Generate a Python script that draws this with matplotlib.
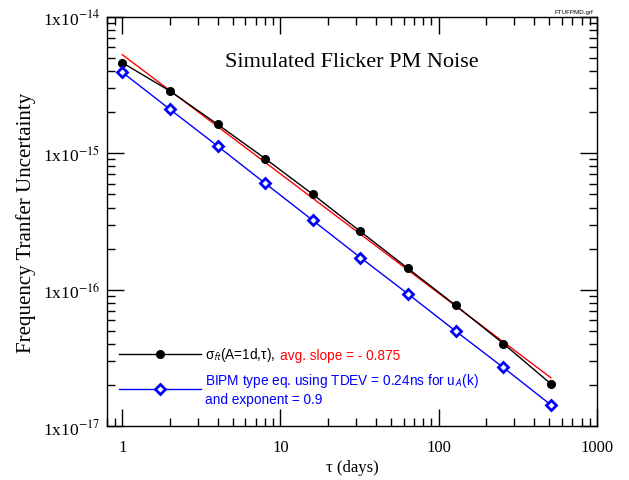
import numpy as np
import matplotlib
matplotlib.use("Agg")
import matplotlib.pyplot as plt
from matplotlib.lines import Line2D
from matplotlib.ticker import LogLocator, FuncFormatter, NullFormatter, FixedLocator

plt.rcParams["mathtext.fontset"] = "stix"

# data
tau = [1, 2, 4, 8, 16, 32, 64, 128, 256, 512]
sigma_ft = [4.61e-15, 2.86e-15, 1.63e-15, 9.14e-16, 5.0e-16,
            2.67e-16, 1.43e-16, 7.67e-17, 4.03e-17, 2.04e-17]
bipm = [3.92e-15, 2.10e-15, 1.13e-15, 6.02e-16, 3.22e-16,
        1.72e-16, 9.3e-17, 4.97e-17, 2.69e-17, 1.43e-17]
fit_tau = [1, 512]
fit_val = [5.28e-15, 2.26e-17]
yticks = [1e-17, 1e-16, 1e-15, 1e-14]
xticks = [1, 10, 100, 1000]

SERIF = "Liberation Serif"
SANS = "Liberation Sans"

fig = plt.figure(figsize=(6.29, 4.81), dpi=100)
ax = fig.add_axes([0.170, 0.112, 0.779, 0.851])

circ = dict(color="black", lw=1.0, marker="o", ms=5.5)
diam = dict(color="blue", lw=1.0, marker="D", ms=5, mfc="white", mec="blue", mew=2.0)

ax.plot(fit_tau, fit_val, "-", color="red", lw=1.0, zorder=2)
ax.plot(tau, sigma_ft, zorder=3, **circ)
ax.plot(tau, bipm, zorder=3, **diam)

ax.set_xscale("log"); ax.set_yscale("log")
ax.set_xlim(0.8, 1000); ax.set_ylim(1e-17, 1e-14)
ax.xaxis.set_major_locator(FixedLocator(xticks))
ax.xaxis.set_minor_locator(LogLocator(base=10, subs=np.arange(2, 10)))
ax.yaxis.set_major_locator(FixedLocator(yticks))
ax.yaxis.set_minor_locator(LogLocator(base=10, subs=np.arange(2, 10)))
ax.xaxis.set_major_formatter(FuncFormatter(lambda v, p: "%d" % v))
ax.xaxis.set_minor_formatter(NullFormatter())
ax.yaxis.set_major_formatter(FuncFormatter(lambda v, p: "1x10$^{%d}$" % round(np.log10(v))))
ax.yaxis.set_minor_formatter(NullFormatter())
ax.tick_params(which="both", direction="in", top=True, right=True, width=1.0)
ax.tick_params(which="major", length=12)
ax.tick_params(which="minor", length=6)
ax.tick_params(axis="x", which="major", pad=9, labelsize=12)
ax.tick_params(axis="y", which="major", pad=5, labelsize=12.5)
for lab in ax.get_xticklabels() + ax.get_yticklabels():
    lab.set_fontfamily(SERIF)
for s in ax.spines.values():
    s.set_linewidth(1.0)

ax.set_xlabel("τ (days)", fontfamily=SERIF, fontsize=12, labelpad=3)
ax.set_ylabel("Frequency Tranfer Uncertainty", fontfamily=SERIF, fontsize=15, labelpad=5)
ax.text(0.5, 0.892, "Simulated Flicker PM Noise", transform=ax.transAxes,
        ha="center", va="center", fontfamily=SERIF, fontsize=16)
fig.text(0.943, 0.973, "FTUFPMD.grf", ha="right", va="center", fontfamily=SANS, fontsize=4.5)

leg = ax.legend([Line2D([], [], **circ), Line2D([], [], **diam)],
                ["σ$_{\\mathsf{ft}}$(A=1d,τ),",
                 "BIPM type eq. using TDEV = 0.24ns for u$_{\\mathsf{A}}$(k)\nand exponent = 0.9"],
                loc="lower left", bbox_to_anchor=(0.0, 0.02), frameon=False,
                handlelength=6.0, handletextpad=0.3, labelspacing=0.6,
                prop={"family": SANS, "size": 9.8})
t1, t2 = leg.get_texts()
t2.set_color("blue")
ax.annotate("avg. slope = - 0.875", xy=(1, 0), xycoords=t1, xytext=(3.5, 1.0),
            textcoords="offset points", va="bottom", ha="left",
            color="red", fontfamily=SANS, fontsize=9.8, zorder=10)

fig.savefig("out.png", dpi=100)
